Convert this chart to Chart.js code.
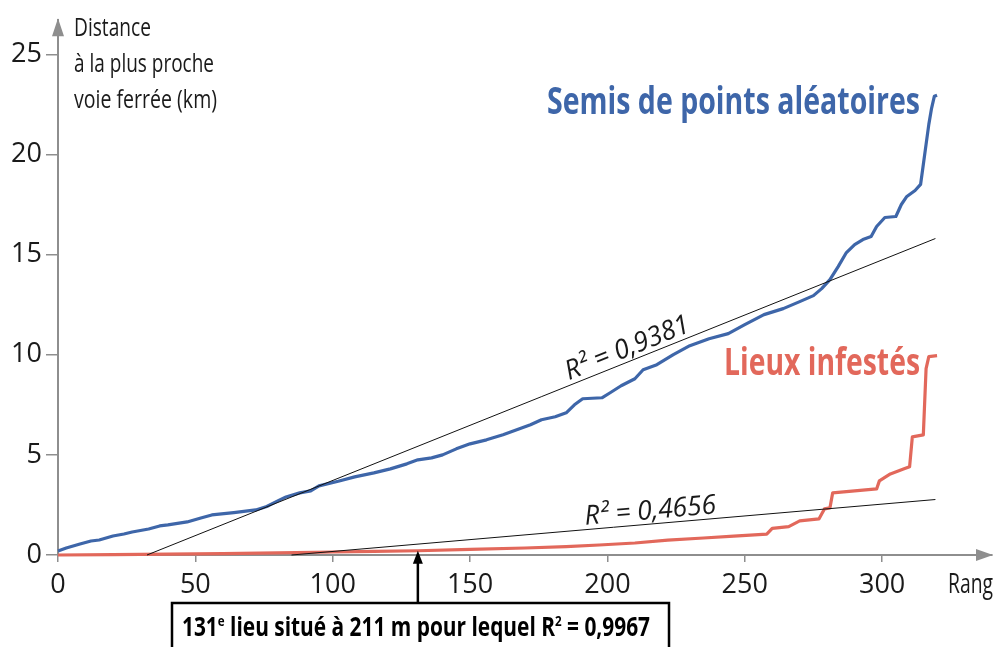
<!DOCTYPE html>
<html><head><meta charset="utf-8">
<style>html,body{margin:0;padding:0;background:#fff;}#wrap{width:996px;height:647px;position:relative;}canvas{display:block;}</style>
<script src="https://cdn.jsdelivr.net/npm/chart.js@4/dist/chart.umd.min.js"></script>
</head><body><div id="wrap"><canvas id="c" width="996" height="647"></canvas></div>
<script>
// ---- data ----
const randomRanks = [0,3,8,12,15,20,24,27,33,37,40,47,52,56,64,72,76,80,83,88,92,95,102,108,115,121,127,131,136,140,145,150,156,162,168,172,176,181,185,188,191,198,201,205,210,213,218,224,230,237,244,250,257,264,270,275,278,281,284,287,290,293,296,298,301,305,307,309,312,314,315,316,317,318,319,320];
const randomDist  = [0.2,0.35,0.55,0.7,0.75,0.95,1.05,1.15,1.3,1.45,1.5,1.65,1.85,2.0,2.12,2.25,2.42,2.7,2.9,3.1,3.2,3.45,3.68,3.9,4.1,4.3,4.55,4.75,4.85,5.0,5.3,5.55,5.75,6.0,6.3,6.5,6.75,6.9,7.1,7.5,7.8,7.85,8.1,8.45,8.8,9.25,9.5,10.0,10.45,10.8,11.05,11.5,12.0,12.3,12.65,12.95,13.3,13.75,14.4,15.1,15.5,15.75,15.9,16.4,16.85,16.9,17.5,17.9,18.2,18.5,19.5,20.5,21.5,22.3,22.9,22.95];
const infestedRanks = [0,20,40,60,80,100,115,131,150,170,185,197,210,222,235,246,258,260,266,270,277,279,281,282,290,298,299,303,308,310,311,315,316,317,320];
const infestedDist  = [0,0.02,0.04,0.07,0.11,0.15,0.18,0.211,0.28,0.35,0.42,0.5,0.6,0.74,0.85,0.94,1.04,1.33,1.42,1.7,1.8,2.3,2.35,3.1,3.2,3.3,3.7,4.05,4.3,4.4,5.9,6.0,9.3,9.9,9.95];
const randomFitRanks = [32.4, 319.4];
const randomFitDist  = [0, 15.8];
const infestedFitRanks = [85, 319.4];
const infestedFitDist  = [0, 2.77];
const xTicks = [0,50,100,150,200,250,300];
const yTicks = [0,5,10,15,20,25];
const seriesNames = ['Semis de points aléatoires', 'Lieux infestés'];
const fitLabels = ['R² = 0,9381', 'R² = 0,4656'];
const yTitle = ['Distance', 'à la plus proche', 'voie ferrée (km)'];
const xTitle = 'Rang';
const markRank = 131, markDist = 0.211;
const noteParts = ['131', 'e', ' lieu situé à 211 m pour lequel R', '2', ' = 0,9967'];

// ---- styles ----
const BLUE = '#3e66a9', RED = '#e2685b', AXIS = '#8e8e8e', INK = '#1a1a1a';
const FONT = "'Open Sans', 'Noto Sans', sans-serif";

function pts(xs, ys){ return xs.map((x,i)=>({x:x, y:ys[i]})); }

function drawFit(ctx, segs, x, y, target, rot, align){
  let w = 0;
  segs.forEach(s=>{ ctx.font = s.font; w += ctx.measureText(s.t).width; });
  const sc = target / w;
  ctx.save();
  ctx.translate(x, y);
  if (rot) ctx.rotate(rot);
  if (align === 'center') ctx.translate(-target/2, 0);
  else if (align === 'right') ctx.translate(-target, 0);
  ctx.scale(sc, 1);
  let cx = 0;
  segs.forEach(s=>{
    ctx.font = s.font; ctx.fillStyle = s.color; ctx.textBaseline = 'alphabetic'; ctx.textAlign = 'left';
    ctx.fillText(s.t, cx, s.dy || 0);
    cx += ctx.measureText(s.t).width;
  });
  ctx.restore();
}

const annot = {
  id: 'annot',
  afterDraw(chart){
    const ctx = chart.ctx, xs = chart.scales.x, ys = chart.scales.y, a = chart.chartArea;
    ctx.save();
    // axis arrows
    ctx.fillStyle = AXIS;
    ctx.beginPath(); ctx.moveTo(a.left, a.top - 2); ctx.lineTo(a.left - 6, a.top + 16); ctx.lineTo(a.left + 6, a.top + 16); ctx.closePath(); ctx.fill();
    ctx.beginPath(); ctx.moveTo(a.right + 1, a.bottom); ctx.lineTo(a.right - 16, a.bottom - 6); ctx.lineTo(a.right - 16, a.bottom + 6); ctx.closePath(); ctx.fill();
    // axis titles
    const f25 = '26px ' + FONT;
    drawFit(ctx, [{t:yTitle[0], font:f25, color:INK}], 74, 36, 77, 0, 'left');
    drawFit(ctx, [{t:yTitle[1], font:f25, color:INK}], 74, 72, 140, 0, 'left');
    drawFit(ctx, [{t:yTitle[2], font:f25, color:INK}], 74, 108, 143, 0, 'left');
    drawFit(ctx, [{t:xTitle, font:'27px ' + FONT, color:INK}], 948, 593, 45, 0, 'left');
    // series labels
    const fb = 'bold 37px ' + FONT;
    drawFit(ctx, [{t:seriesNames[0], font:fb, color:BLUE}], 547, 114, 373, 0, 'left');
    drawFit(ctx, [{t:seriesNames[1], font:fb, color:RED}], 724, 375, 196, 0, 'left');
    // fit labels along trend lines
    const fi = 'italic 27px ' + FONT;
    [[randomFitRanks, randomFitDist, 209, fitLabels[0]], [infestedFitRanks, infestedFitDist, 216, fitLabels[1]]].forEach(([rx, ry, at, lab])=>{
      const x0 = xs.getPixelForValue(rx[0]), y0 = ys.getPixelForValue(ry[0]);
      const x1 = xs.getPixelForValue(rx[1]), y1 = ys.getPixelForValue(ry[1]);
      const ang = Math.atan2(y1 - y0, x1 - x0);
      const v = ry[0] + (ry[1]-ry[0]) * (at - rx[0]) / (rx[1]-rx[0]);
      const px = xs.getPixelForValue(at), py = ys.getPixelForValue(v);
      ctx.save(); ctx.translate(px, py); ctx.rotate(ang);
      drawFit(ctx, [{t:lab, font:fi, color:INK}], 0, -5, 132, 0, 'center');
      ctx.restore();
    });
    // note box + arrow
    const boxL = 172, boxR = 669, boxT = 603;
    ctx.fillStyle = '#fff'; ctx.fillRect(boxL, boxT, boxR - boxL, 60);
    ctx.strokeStyle = '#000'; ctx.lineWidth = 2.5; ctx.strokeRect(boxL, boxT, boxR - boxL, 60);
    const ax = xs.getPixelForValue(markRank), ay = ys.getPixelForValue(markDist);
    ctx.beginPath(); ctx.moveTo(ax, boxT); ctx.lineTo(ax, ay + 10); ctx.lineWidth = 2.5; ctx.stroke();
    ctx.fillStyle = '#000';
    ctx.beginPath(); ctx.moveTo(ax, ay); ctx.lineTo(ax - 5, ay + 13); ctx.lineTo(ax + 5, ay + 13); ctx.closePath(); ctx.fill();
    const nb = 'bold 27px ' + FONT, ns = 'bold 15px ' + FONT;
    drawFit(ctx, [
      {t:noteParts[0], font:nb, color:'#000'},
      {t:noteParts[1], font:ns, color:'#000', dy:-10},
      {t:noteParts[2], font:nb, color:'#000'},
      {t:noteParts[3], font:ns, color:'#000', dy:-10},
      {t:noteParts[4], font:nb, color:'#000'}
    ], 182, 636, 468, 0, 'left');
    ctx.restore();
  }
};

new Chart(document.getElementById('c'), {
  type: 'line',
  data: {
    datasets: [
      {data: pts(randomFitRanks, randomFitDist), borderColor:'#111', borderWidth:1, pointRadius:0, clip:false},
      {data: pts(infestedFitRanks, infestedFitDist), borderColor:'#111', borderWidth:1, pointRadius:0, clip:false},
      {data: pts(infestedRanks, infestedDist), borderColor:RED, borderWidth:3.2, pointRadius:0, clip:false, borderJoinStyle:'round'},
      {data: pts(randomRanks, randomDist), borderColor:BLUE, borderWidth:3.2, pointRadius:0, clip:false, borderJoinStyle:'round'}
    ]
  },
  options: {
    responsive:false, animation:false, devicePixelRatio:1,
    layout:{padding:{top:15, right:4, left:0, bottom:0}},
    plugins:{legend:{display:false}, tooltip:{enabled:false}},
    scales:{
      x:{type:'linear', min:0, max:340,
        afterBuildTicks(s){ s.ticks = xTicks.map(v=>({value:v})); },
        afterFit(s){ s.height = 92; },
        grid:{drawOnChartArea:false, drawTicks:true, tickLength:7, color:AXIS, lineWidth:1.5},
        border:{display:true, color:AXIS, width:2},
        ticks:{font:{family:FONT, size:27}, color:INK, padding:7, maxRotation:0, autoSkip:false}},
      y:{type:'linear', min:0, max:26.7,
        afterBuildTicks(s){ s.ticks = yTicks.map(v=>({value:v})); },
        afterFit(s){ s.width = 58; },
        grid:{drawOnChartArea:false, drawTicks:true, tickLength:12, color:AXIS, lineWidth:1.5},
        border:{display:true, color:AXIS, width:2},
        ticks:{font:{family:FONT, size:27}, color:INK, padding:4, autoSkip:false}}
    }
  },
  plugins:[annot]
});
</script></body></html>
